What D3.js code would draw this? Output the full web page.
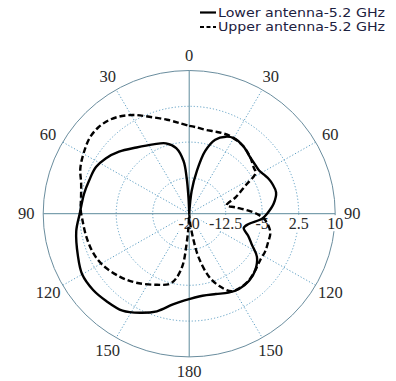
<!DOCTYPE html>
<html>
<head>
<meta charset="utf-8">
<script src="https://cdn.jsdelivr.net/npm/d3@7"></script>
<style>
  html, body { margin: 0; padding: 0; background: #fff; }
  svg { display: block; }
</style>
</head>
<body>
<div id="chart"></div>
<script>
// pattern data, angle in degrees (clockwise from top), gain in dB
const lowerAngle = [0, 6, 10, 14, 19, 25, 30, 38, 47, 53, 58, 62, 66, 70, 76, 83, 90, 94, 100, 105, 111, 117, 123, 131, 139, 147, 154, 162, 171, 183, 190, 198, 206, 214, 223, 231, 240, 249, 261, 270, 281, 289, 297, 304, 312, 322, 333, 342, 349, 354, 356, 357.5, 360];
const lowerGain  = [-20, -15.2, -10.9, -6.5, -3.6, -2.2, -1.7, -2.0, -2.8, -3.0, -3.0, -2.6, -2.1, -1.8, -1.6, -2.5, -4.0, -5.0, -7.6, -8.4, -7.0, -5.5, -3.4, -2.0, -1.3, -1.2, -1.6, -2.3, -2.6, -1.8, -0.7, 1.5, 3.1, 4.5, 5.0, 5.4, 5.4, 4.5, 3.5, 2.5, 2.0, 1.7, 1.5, 0.7, -0.6, -2.4, -3.7, -4.5, -6.0, -8.9, -12.4, -16.6, -20];

const upperAngle = [0, 4, 10, 17, 22, 28, 38, 47, 54, 58, 63, 70, 77, 82, 87, 91, 95, 103, 111, 117, 123, 131, 139, 147, 152, 158, 163, 168, 171, 175, 180, 183, 185, 187, 191, 195, 204, 217, 227, 239, 248, 258, 267, 272, 279, 286, 293, 301, 308, 314, 320, 326, 332, 338, 347, 354, 360];
const upperGain  = [-1.6, -1.8, -2.1, -2.0, -1.8, -1.7, -2.0, -2.8, -3.6, -3.9, -7.0, -9.8, -12.1, -10.4, -7.8, -5.7, -4.3, -2.9, -2.7, -2.5, -2.5, -2.0, -1.4, -1.3, -1.6, -3.7, -6.3, -10.6, -14.6, -18.3, -20, -17.2, -13.4, -9.2, -6.3, -4.8, -3.7, -1.9, -0.6, 0.8, 1.4, 1.7, 2.0, 2.3, 2.5, 3.1, 4.3, 5.2, 5.9, 6.0, 5.6, 4.7, 3.4, 1.9, 0.2, -0.9, -1.6];

const ringTicks = [-20, -12.5, -5, 2.5, 10];
const angleTicks = [0, 30, 60, 90, 120, 150, 180, 210, 240, 270, 300, 330];
const seriesNames = ["Lower antenna-5.2 GHz", "Upper antenna-5.2 GHz"];

const width = 396, height = 381;
const cx = 189.2, cy = 213.7, rx = 146, ry = 143.2;
const serif = "'Liberation Serif', 'Times New Roman', Times, serif";

const svg = d3.select("#chart").append("svg")
  .attr("width", width).attr("height", height)
  .attr("viewBox", [0, 0, width, height]);

const r = d3.scaleLinear().domain([-20, 10]).range([0, 1]);
const ang = d3.scaleLinear().domain([0, 360]).range([0, 2 * Math.PI]);
const px = (a, g) => cx + rx * r(g) * Math.sin(ang(a));
const py = (a, g) => cy - ry * r(g) * Math.cos(ang(a));

// grid
const grid = svg.append("g");
grid.selectAll("ellipse.ring")
  .data(ringTicks.slice(1, -1))
  .join("ellipse")
  .attr("cx", cx).attr("cy", cy)
  .attr("rx", d => rx * r(d)).attr("ry", d => ry * r(d))
  .attr("fill", "none")
  .attr("stroke", "#5e9fc4")
  .attr("stroke-width", 1)
  .attr("stroke-dasharray", "1.2,2");

grid.selectAll("line.spoke")
  .data(angleTicks.filter(a => a % 90 !== 0))
  .join("line")
  .attr("x1", cx).attr("y1", cy)
  .attr("x2", a => px(a, 10)).attr("y2", a => py(a, 10))
  .attr("stroke", "#5e9fc4")
  .attr("stroke-width", 1)
  .attr("stroke-dasharray", "1.2,2");

grid.selectAll("line.axis")
  .data([0, 90])
  .join("line")
  .attr("x1", a => px(a, 10)).attr("y1", a => py(a, 10))
  .attr("x2", a => px(a + 180, 10)).attr("y2", a => py(a + 180, 10))
  .attr("stroke", "#5d8a9c")
  .attr("stroke-width", 1);

grid.append("ellipse")
  .attr("cx", cx).attr("cy", cy)
  .attr("rx", rx).attr("ry", ry)
  .attr("fill", "none")
  .attr("stroke", "#6a8d9e")
  .attr("stroke-width", 1);

// angle labels
svg.append("g").selectAll("text")
  .data(angleTicks)
  .join("text")
  .attr("x", a => cx + (rx + 17) * Math.sin(ang(a)))
  .attr("y", a => cy - (ry + 15) * Math.cos(ang(a)))
  .attr("text-anchor", "middle")
  .attr("dominant-baseline", "central")
  .style("font-family", serif)
  .attr("font-size", 16.5)
  .attr("fill", "#2a2a2a")
  .text(a => a <= 180 ? a : 360 - a);

// ring labels with white boxes
const ringLab = svg.append("g").selectAll("g")
  .data(ringTicks)
  .join("g")
  .attr("transform", d => `translate(${px(90, d)},${cy + 9.5})`);
ringLab.append("text")
  .attr("text-anchor", "middle")
  .attr("dominant-baseline", "central")
  .style("font-family", serif)
  .attr("font-size", 16)
  .attr("fill", "#2a2a2a")
  .text(d => d);
ringLab.insert("rect", "text")
  .each(function() {
    const b = this.parentNode.querySelector("text").getBBox();
    d3.select(this)
      .attr("x", b.x - 1).attr("y", -8)
      .attr("width", b.width + 2).attr("height", 16)
      .attr("fill", "#fff");
  });

// curves
const line = d3.line()
  .x(d => px(d[0], d[1]))
  .y(d => py(d[0], d[1]))
  .curve(d3.curveCatmullRom.alpha(0.5));

const series = [
  { pts: d3.zip(lowerAngle, lowerGain), dash: null },
  { pts: d3.zip(upperAngle, upperGain), dash: "6,3" }
];

svg.append("g").selectAll("path")
  .data(series)
  .join("path")
  .attr("d", d => line(d.pts))
  .attr("fill", "none")
  .attr("stroke", "#000")
  .attr("stroke-width", 2.4)
  .attr("stroke-linejoin", "round")
  .attr("stroke-dasharray", d => d.dash);

// legend
const legend = svg.append("g").attr("transform", "translate(200,12.5)");
const item = legend.selectAll("g")
  .data(seriesNames)
  .join("g")
  .attr("transform", (d, i) => `translate(0,${i * 14.5})`);
item.append("line")
  .attr("x1", 0).attr("x2", 16)
  .attr("stroke", "#000")
  .attr("stroke-width", 2.2)
  .attr("stroke-dasharray", (d, i) => i ? "4,2.5" : null);
item.append("text")
  .attr("x", 18)
  .attr("dy", "0.35em")
  .style("font-family", "'DejaVu Sans', sans-serif")
  .attr("font-size", 12.5)
  .attr("textLength", 167)
  .attr("lengthAdjust", "spacingAndGlyphs")
  .attr("fill", "#1c2140")
  .text(d => d);
</script>
</body>
</html>
